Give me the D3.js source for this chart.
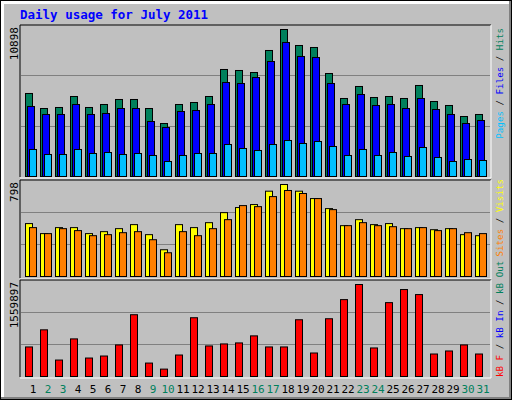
<!DOCTYPE html>
<html><head><meta charset="utf-8">
<script src="https://cdn.jsdelivr.net/npm/d3@7"></script>
<style>body{margin:0;background:#fff}</style>
</head><body>
<script>
var days = d3.range(1, 32);
var weekend = [2,3,9,10,16,17,23,24,30,31];
var hits = [6154,5041,5116,5931,5116,5338,5709,5709,5041,3929,5338,5486,5931,7933,7859,7710,9342,10898,9712,9564,7636,5783,6673,5857,5931,5783,6747,5560,5264,4448,4597];
var files = [5190,4597,4597,5338,4597,4671,5041,5041,4078,3633,4819,4893,5338,6969,6895,7340,8526,9935,8897,8823,6895,5338,6079,5264,5338,5041,5783,4967,4597,3929,4152];
var pages = [2002,1631,1631,2002,1705,1779,1631,1705,1557,1112,1557,1705,1705,2372,2076,1928,2372,2669,2447,2595,2224,1557,2002,1557,1779,1483,2150,1409,1112,1260,1186];
var visits = [459,372,424,424,372,389,415,450,363,232,450,424,467,554,598,624,740,798,740,676,589,441,493,450,459,415,424,406,415,363,354];
var sites = [424,372,415,398,354,363,380,389,319,206,389,354,415,493,615,606,693,746,720,676,580,441,467,441,432,415,424,398,415,380,372];
var kbytes = [500984,791327,278957,637616,313115,347273,535142,1047512,227720,125246,364352,996275,518063,552221,569300,688853,500984,500984,962117,398510,979196,1303697,1559897,483905,1252460,1474487,1389092,381431,432668,535142,381431];

var font = "DejaVu Sans Mono";
var svg = d3.select("body").append("svg").attr("width", 512).attr("height", 400);

// background and frame
svg.append("rect").attr("x", 0).attr("y", 0).attr("width", 512).attr("height", 400).attr("fill", "#000");
svg.append("rect").attr("x", 1).attr("y", 1).attr("width", 510).attr("height", 398).attr("fill", "#808080");
svg.append("rect").attr("x", 1).attr("y", 1).attr("width", 508).attr("height", 396).attr("fill", "#fff");
svg.append("rect").attr("x", 4).attr("y", 4).attr("width", 505).attr("height", 393).attr("fill", "#c0c0c0");

svg.append("text").attr("x", 20).attr("y", 19)
  .attr("font-family", font).attr("font-weight", "bold").attr("font-size", "12.5px")
  .attr("fill", "#0000ff").text("Daily usage for July 2011");

var x = d3.scaleLinear().domain([1, 31]).range([25, 475]);

// panel boxes
var panels = [
  {top: 25, base: 176, bottom: 177},
  {top: 180, base: 276, bottom: 278},
  {top: 280, base: 376, bottom: 377}
];
panels.forEach(function(p) {
  svg.append("line").attr("x1", 20).attr("x2", 491).attr("y1", p.top).attr("y2", p.top).attr("stroke", "#000");
  svg.append("line").attr("x1", 20).attr("x2", 20).attr("y1", p.top).attr("y2", p.bottom).attr("stroke", "#000");
  svg.append("line").attr("x1", 491).attr("x2", 491).attr("y1", p.top).attr("y2", p.bottom + 1).attr("stroke", "#fff");
  svg.append("line").attr("x1", 20).attr("x2", 491).attr("y1", p.bottom + 1).attr("y2", p.bottom + 1).attr("stroke", "#fff");
  [1, 2].forEach(function(k) {
    var gy = Math.round(p.base - k * (p.base - p.top) / 3) + 0.5;
    svg.append("line").attr("x1", 21).attr("x2", 490).attr("y1", gy).attr("y2", gy).attr("stroke", "#808080");
  });
});

function bars(vals, y, dx, color) {
  svg.append("g").selectAll("rect").data(vals).join("rect")
    .attr("x", function(d, i) { return x(days[i]) + dx + 0.5; })
    .attr("y", function(d) { return y(d) + 0.5; })
    .attr("width", 7)
    .attr("height", function(d) { return y(0) - y(d); })
    .attr("fill", color).attr("stroke", "#000").attr("stroke-width", 1);
}

var y1 = d3.scaleLinear().domain([0, 10898]).range([176, 29]);
bars(hits, y1, 0, "#00805c");
bars(files, y1, 2, "#0000ff");
bars(pages, y1, 4, "#00c0ff");

var y2 = d3.scaleLinear().domain([0, 798]).range([276, 184]);
bars(visits, y2, 0, "#ffff00");
bars(sites, y2, 4, "#ff8000");

var y3 = d3.scaleLinear().domain([0, 1559897]).range([376, 284]);
bars(kbytes, y3, 0, "#ff0000");

// max labels
[["10898", 27], ["798", 182], ["1559897", 282]].forEach(function(l) {
  svg.append("text").attr("transform", "translate(18," + l[1] + ") rotate(-90)")
    .attr("text-anchor", "end").attr("font-family", font).attr("font-size", "11px")
    .attr("fill", "#000").text(l[0]);
});

// right legends
function legend(parts, yPos, anchor) {
  var t = svg.append("text").attr("transform", "translate(503," + yPos + ") rotate(-90)")
    .attr("text-anchor", anchor).attr("font-family", font).attr("font-size", "9.2px");
  parts.forEach(function(p) { t.append("tspan").attr("fill", p[1]).text(p[0]); });
}
legend([["Pages", "#00c0ff"], [" / ", "#000"], ["Files", "#0000ff"], [" / ", "#000"], ["Hits", "#00805c"]], 28, "end");
legend([["Sites", "#ff8000"], [" / ", "#000"], ["Visits", "#ffff00"]], 179, "end");
legend([["kB F", "#ff0000"], [" / ", "#000"], ["kB In", "#0000ff"], [" / ", "#000"], ["kB Out", "#00805c"]], 377, "start");

// day labels
svg.append("g").selectAll("text").data(days).join("text")
  .attr("x", function(d) { return x(d) + 8; })
  .attr("y", 393).attr("text-anchor", "middle")
  .attr("font-family", font).attr("font-size", "11px")
  .attr("fill", function(d) { return weekend.indexOf(d) >= 0 ? "#00805c" : "#000"; })
  .text(function(d) { return d; });
</script>
</body></html>
